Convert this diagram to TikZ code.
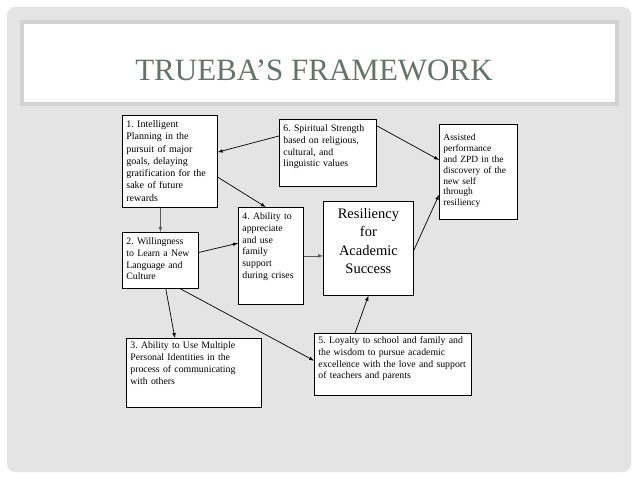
\documentclass[tikz,border=0pt]{standalone}
\usepackage{fontspec}
\setmainfont{Liberation Serif}
\newfontfamily\fonttitolo{Liberation Serif}
\usetikzlibrary{calc}
\definecolor{grigiosfondo}{HTML}{E4E4E4}
\definecolor{grigiobordo}{HTML}{D2D2D2}
\definecolor{verdetitolo}{HTML}{65736B}
\tikzset{
  riquadro/.style={draw, fill=white, line width=0.8pt, anchor=north west, align=left,
    inner xsep=4pt, inner ysep=3pt, text height=9pt, font=\fontsize{9.8}{11.8}\selectfont},
  freccia/.style={-latex, line width=0.7pt},
}
\frenchspacing
\begin{document}
\begin{tikzpicture}[x=1pt,y=-1pt]
    \useasboundingbox (0,0) rectangle (638,479);
    %sfondo
    \fill[white] (0,0) rectangle (638,479);
    \fill[grigiosfondo, rounded corners=8pt] (7,7) rectangle (631,472);
    \fill[grigiobordo] (20,20) rectangle (619,106);
    \fill[white] (24,24) rectangle (615,102);
    %titolo
    \node[text=verdetitolo, font=\fonttitolo\fontsize{31}{36}\selectfont, anchor=base] (tit) at (314,80) {TRUEBA’S FRAMEWORK};

    %riquadri
    \node[riquadro, text width=87pt, text depth=77pt, font=\fontsize{10}{12.3}\selectfont] (b1) at (122,115)
        {1. Intelligent\\ Planning in the\\ pursuit of major\\ goals, delaying\\ gratification for the\\ sake of future\\ rewards};
    \node[riquadro, text width=89pt, text depth=52pt] (b6) at (279,119)
        {6. Spiritual Strength\\ based on religious,\\ cultural, and\\ linguistic values};
    \node[riquadro, text width=70pt, text height=13pt, text depth=76pt, font=\fontsize{9.5}{10.9}\selectfont] (zpd) at (439,124)
        {Assisted\\ performance\\ and ZPD in the\\ discovery of the\\ new self\\ through\\ resiliency};
    \node[riquadro, text width=57pt, text depth=82pt] (b4) at (238,207)
        {4. Ability to\\ appreciate\\ and use\\ family\\ support\\ during crises};
    \node[riquadro, text width=68pt, text depth=41pt] (b2) at (122,232)
        {2. Willingness\\ to Learn a New\\ Language and\\ Culture};
    \node[riquadro, align=center, text width=82pt, text height=14pt, text depth=74pt, font=\fontsize{14.5}{18.3}\selectfont] (res) at (323,201)
        {Resiliency\\ for\\ Academic\\ Success};
    \node[riquadro, text width=127pt, text height=7.5pt, text depth=55.5pt] (b3) at (126,338)
        {3. Ability to Use Multiple\\ Personal Identities in the\\ process of communicating\\ with others};
    \node[riquadro, text width=149pt, text height=7pt, text depth=49pt] (b5) at (314,333)
        {5. Loyalty to school and family and\\ the wisdom to pursue academic\\ excellence with the love and support\\ of teachers and parents};

    %frecce
    \draw[freccia] ($(b6.north west)!0.25!(b6.south west)$) -- ($(b1.north east)!0.4!(b1.south east)$);
    \draw[freccia] ($(b6.north east)!0.1!(b6.south east)$) -- ($(zpd.north west)!0.375!(zpd.south west)$);
    \draw[freccia] ($(b1.north east)!0.67!(b1.south east)$) -- ($(b4.north west)!0.42!(b4.north east)$);
    \draw[freccia, gray!70!black] (b2.north |- b1.south) -- (b2.north);
    \draw[freccia] ($(b2.north east)!0.36!(b2.south east)$) -- ($(b4.north west)!0.37!(b4.south west)$);
    \draw[freccia, gray!70!black] (b4.east) -- (b4.east -| res.west);
    \draw[freccia] ($(res.north east)!0.52!(res.south east)$) -- ($(zpd.north west)!0.74!(zpd.south west)$);
    \draw[freccia] ($(b2.south west)!0.57!(b2.south east)$) -- ($(b3.north west)!0.36!(b3.north east)$);
    \draw[freccia] ($(b2.south west)!0.76!(b2.south east)$) -- ($(b5.north west)!0.44!(b5.south west)$);
    \draw[freccia] ($(b5.north west)!0.26!(b5.north east)$) -- (res.south);
\end{tikzpicture}
\end{document}
